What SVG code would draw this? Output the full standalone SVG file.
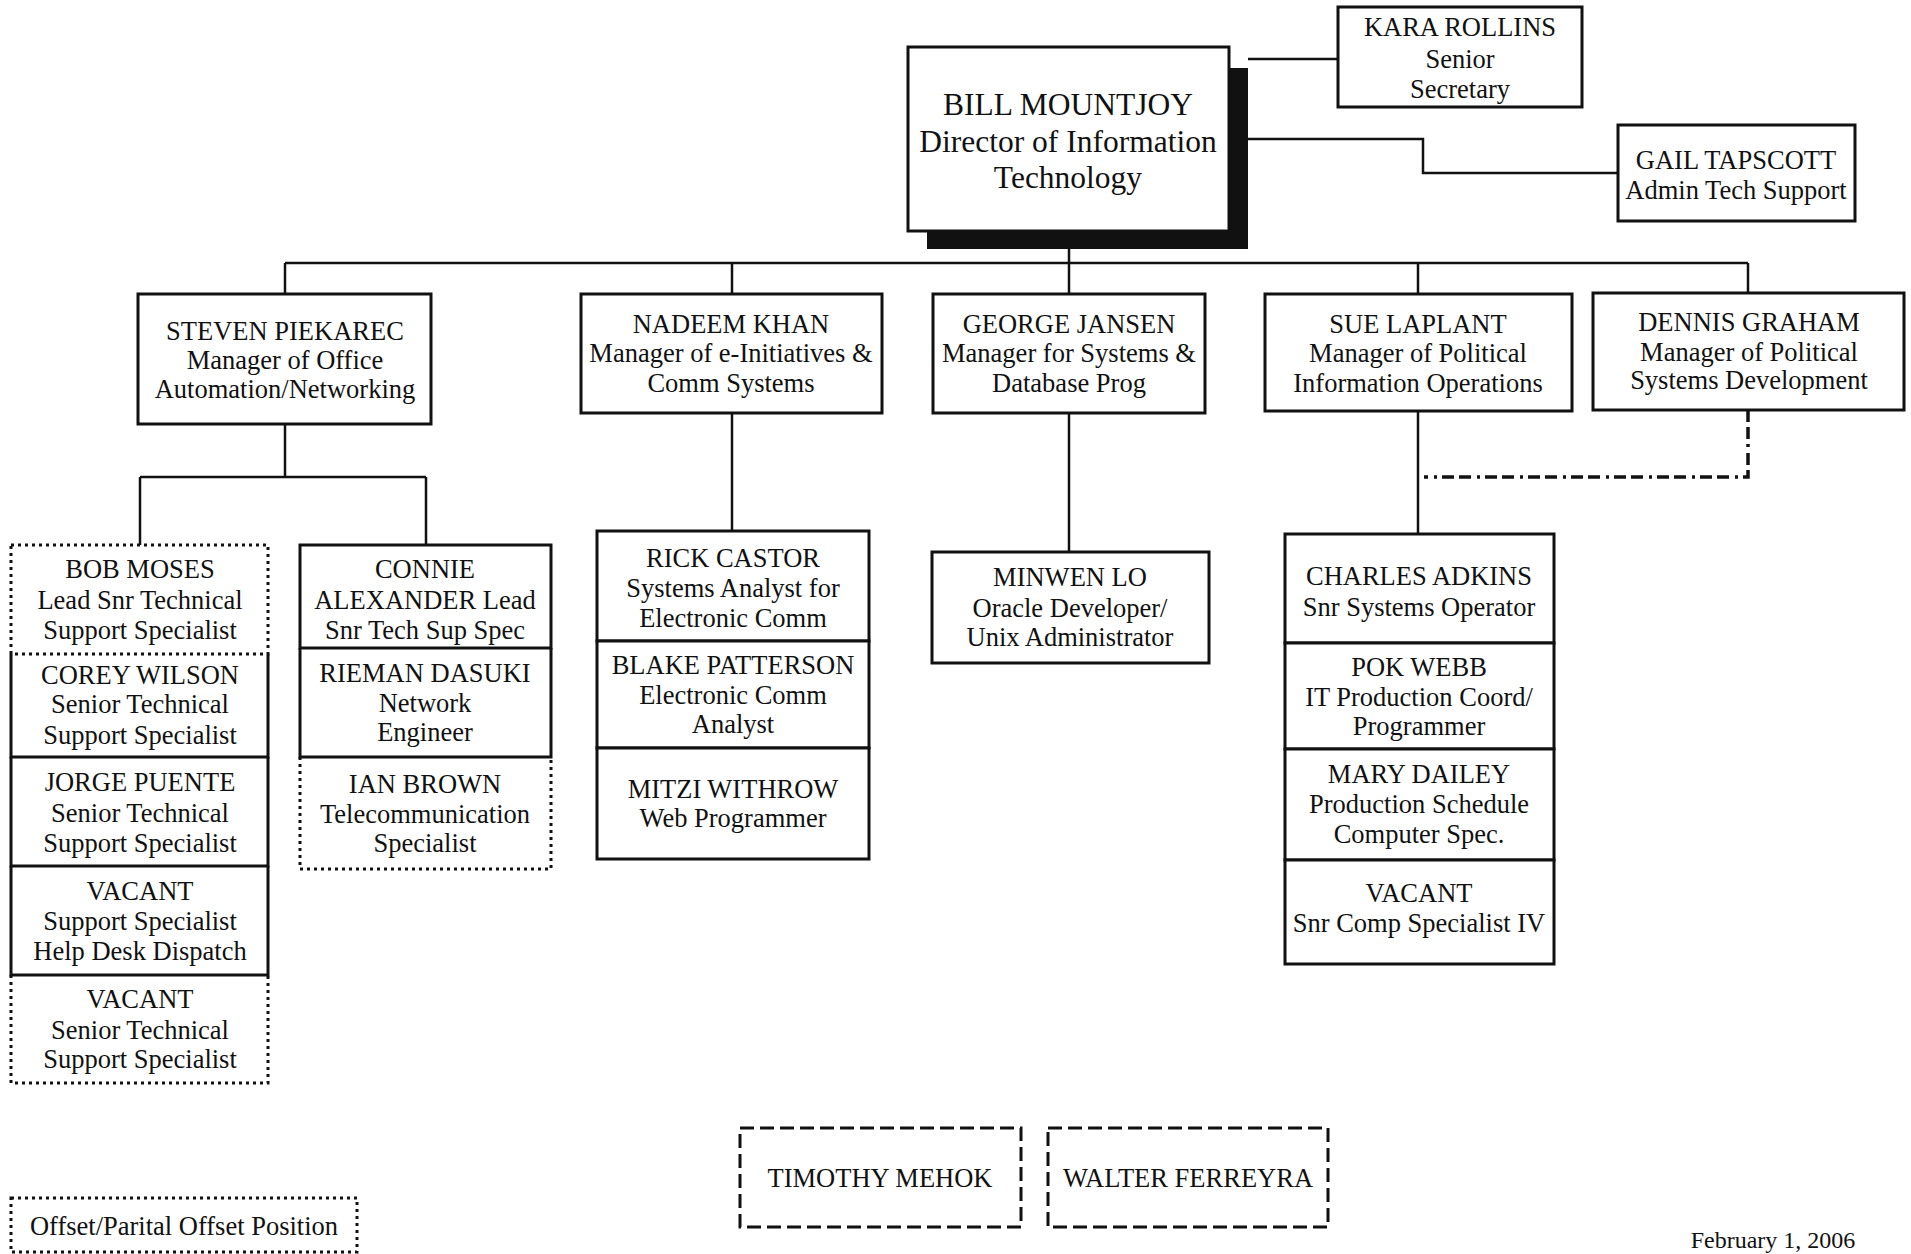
<svg xmlns="http://www.w3.org/2000/svg" width="1911" height="1254" viewBox="0 0 1911 1254">
<style>
  text { font-family: "Liberation Serif", "Times New Roman", serif; font-size: 26.5px; fill: #111; text-anchor: middle; }
  .big { font-size: 31.5px; }
  .date { font-size: 24px; }
  .box { fill: #fff; stroke: #111; stroke-width: 3; }
  .solid { fill: none; stroke: #111; stroke-width: 3; }
  .dotted { fill: none; stroke: #111; stroke-width: 3; stroke-dasharray: 3 4; }
  .dashed { fill: none; stroke: #111; stroke-width: 3; stroke-dasharray: 14 6; }
  .conn { fill: none; stroke: #111; stroke-width: 2.5; }
  .dashdot { fill: none; stroke: #111; stroke-width: 3.5; stroke-dasharray: 12 5 12 5 3 6; }
  .fillw { fill: #fff; stroke: none; }
</style>
<rect width="1911" height="1254" fill="#fff"/>

<g id="connectors">
  <path class="conn" d="M1248,59 H1338"/>
  <path class="conn" d="M1248,139 H1423 V173 H1618"/>
  <path class="conn" d="M1069,249 V263"/>
  <path class="conn" d="M285,263 H1748"/>
  <path class="conn" d="M285,263 V294"/>
  <path class="conn" d="M732,263 V294"/>
  <path class="conn" d="M1069,263 V294"/>
  <path class="conn" d="M1418,263 V294"/>
  <path class="conn" d="M1748,263 V293"/>
  <path class="conn" d="M285,424 V477 M140,477 H426 M140,477 V545 M426,477 V545"/>
  <path class="conn" d="M732,413 V531"/>
  <path class="conn" d="M1069,413 V552"/>
  <path class="conn" d="M1418,411 V534"/>
  <path class="dashdot" d="M1748,410 V477 H1424"/>
</g>

<g id="bill-mountjoy">
  <rect x="927" y="68" width="321" height="181" fill="#111"/>
  <rect class="box" x="908" y="47" width="321" height="184"/>
  <text class="big" x="1068" y="115">BILL MOUNTJOY</text>
  <text class="big" x="1068" y="152">Director of Information</text>
  <text class="big" x="1068" y="188">Technology</text>
</g>

<g id="kara-rollins">
  <rect class="box" x="1338" y="7" width="244" height="100"/>
  <text x="1460" y="36">KARA ROLLINS</text>
  <text x="1460" y="68">Senior</text>
  <text x="1460" y="98">Secretary</text>
</g>

<g id="gail-tapscott">
  <rect class="box" x="1618" y="125" width="237" height="96"/>
  <text x="1736" y="169">GAIL TAPSCOTT</text>
  <text x="1736" y="199">Admin Tech Support</text>
</g>

<g id="steven-piekarec">
  <rect class="box" x="138" y="294" width="293" height="130"/>
  <text x="285" y="340">STEVEN PIEKAREC</text>
  <text x="285" y="369">Manager of Office</text>
  <text x="285" y="398">Automation/Networking</text>
</g>

<g id="nadeem-khan">
  <rect class="box" x="581" y="294" width="301" height="119"/>
  <text x="731" y="333">NADEEM KHAN</text>
  <text x="731" y="362">Manager of e-Initiatives &amp;</text>
  <text x="731" y="392">Comm Systems</text>
</g>

<g id="george-jansen">
  <rect class="box" x="933" y="294" width="272" height="119"/>
  <text x="1069" y="333">GEORGE JANSEN</text>
  <text x="1069" y="362">Manager for Systems &amp;</text>
  <text x="1069" y="392">Database Prog</text>
</g>

<g id="sue-laplant">
  <rect class="box" x="1265" y="294" width="307" height="117"/>
  <text x="1418" y="333">SUE LAPLANT</text>
  <text x="1418" y="362">Manager of Political</text>
  <text x="1418" y="392">Information Operations</text>
</g>

<g id="dennis-graham">
  <rect class="box" x="1593" y="293" width="311" height="117"/>
  <text x="1749" y="331">DENNIS GRAHAM</text>
  <text x="1749" y="361">Manager of Political</text>
  <text x="1749" y="389">Systems Development</text>
</g>

<!-- Bob stack -->
<g id="bob-moses">
  <rect class="fillw" x="11" y="545" width="257" height="109"/>
  <rect class="dotted" x="11" y="545" width="257" height="109"/>
  <text x="140" y="578">BOB MOSES</text>
  <text x="140" y="609">Lead Snr Technical</text>
  <text x="140" y="639">Support Specialist</text>
</g>
<g id="corey-wilson">
  <path class="solid" d="M11,654 V757 H268 V654"/>
  <text x="140" y="684">COREY WILSON</text>
  <text x="140" y="713">Senior Technical</text>
  <text x="140" y="744">Support Specialist</text>
</g>
<g id="jorge-puente">
  <path class="solid" d="M11,757 V866 H268 V757"/>
  <text x="140" y="791">JORGE PUENTE</text>
  <text x="140" y="822">Senior Technical</text>
  <text x="140" y="852">Support Specialist</text>
</g>
<g id="vacant-help-desk">
  <path class="solid" d="M11,866 V975 H268 V866"/>
  <text x="140" y="900">VACANT</text>
  <text x="140" y="930">Support Specialist</text>
  <text x="140" y="960">Help Desk Dispatch</text>
</g>
<g id="vacant-senior-tech">
  <path class="dotted" d="M11,975 V1083 H268 V975"/>
  <text x="140" y="1008">VACANT</text>
  <text x="140" y="1039">Senior Technical</text>
  <text x="140" y="1068">Support Specialist</text>
</g>

<!-- Connie stack -->
<g id="connie-alexander">
  <rect class="box" x="300" y="545" width="251" height="103"/>
  <text x="425" y="578">CONNIE</text>
  <text x="425" y="609">ALEXANDER Lead</text>
  <text x="425" y="639">Snr Tech Sup Spec</text>
</g>
<g id="rieman-dasuki">
  <path class="solid" d="M300,648 V757 H551 V648"/>
  <text x="425" y="682">RIEMAN DASUKI</text>
  <text x="425" y="712">Network</text>
  <text x="425" y="741">Engineer</text>
</g>
<g id="ian-brown">
  <path class="dotted" d="M300,757 V869 H551 V757"/>
  <text x="425" y="793">IAN BROWN</text>
  <text x="425" y="823">Telecommunication</text>
  <text x="425" y="852">Specialist</text>
</g>

<!-- Rick stack -->
<g id="rick-castor">
  <rect class="box" x="597" y="531" width="272" height="110"/>
  <text x="733" y="567">RICK CASTOR</text>
  <text x="733" y="597">Systems Analyst for</text>
  <text x="733" y="627">Electronic Comm</text>
</g>
<g id="blake-patterson">
  <rect class="box" x="597" y="641" width="272" height="107"/>
  <text x="733" y="674">BLAKE PATTERSON</text>
  <text x="733" y="704">Electronic Comm</text>
  <text x="733" y="733">Analyst</text>
</g>
<g id="mitzi-withrow">
  <rect class="box" x="597" y="748" width="272" height="111"/>
  <text x="733" y="798">MITZI WITHROW</text>
  <text x="733" y="827">Web Programmer</text>
</g>

<g id="minwen-lo">
  <rect class="box" x="932" y="552" width="277" height="111"/>
  <text x="1070" y="586">MINWEN LO</text>
  <text x="1070" y="617">Oracle Developer/</text>
  <text x="1070" y="646">Unix Administrator</text>
</g>

<!-- Charles stack -->
<g id="charles-adkins">
  <rect class="box" x="1285" y="534" width="269" height="109"/>
  <text x="1419" y="585">CHARLES ADKINS</text>
  <text x="1419" y="616">Snr Systems Operator</text>
</g>
<g id="pok-webb">
  <rect class="box" x="1285" y="643" width="269" height="106"/>
  <text x="1419" y="676">POK WEBB</text>
  <text x="1419" y="706">IT Production Coord/</text>
  <text x="1419" y="735">Programmer</text>
</g>
<g id="mary-dailey">
  <rect class="box" x="1285" y="749" width="269" height="111"/>
  <text x="1419" y="783">MARY DAILEY</text>
  <text x="1419" y="813">Production Schedule</text>
  <text x="1419" y="843">Computer Spec.</text>
</g>
<g id="vacant-snr-comp">
  <rect class="box" x="1285" y="860" width="269" height="104"/>
  <text x="1419" y="902">VACANT</text>
  <text x="1419" y="932">Snr Comp Specialist IV</text>
</g>

<g id="timothy-mehok">
  <rect class="dashed" x="740" y="1128" width="281" height="99"/>
  <text x="880" y="1187">TIMOTHY MEHOK</text>
</g>
<g id="walter-ferreyra">
  <rect class="dashed" x="1048" y="1128" width="280" height="99"/>
  <text x="1188" y="1187">WALTER FERREYRA</text>
</g>

<g id="legend">
  <rect class="dotted" x="11" y="1198" width="346" height="54"/>
  <text x="184" y="1235">Offset/Parital Offset Position</text>
</g>

<text class="date" x="1773" y="1248">February 1, 2006</text>
</svg>
